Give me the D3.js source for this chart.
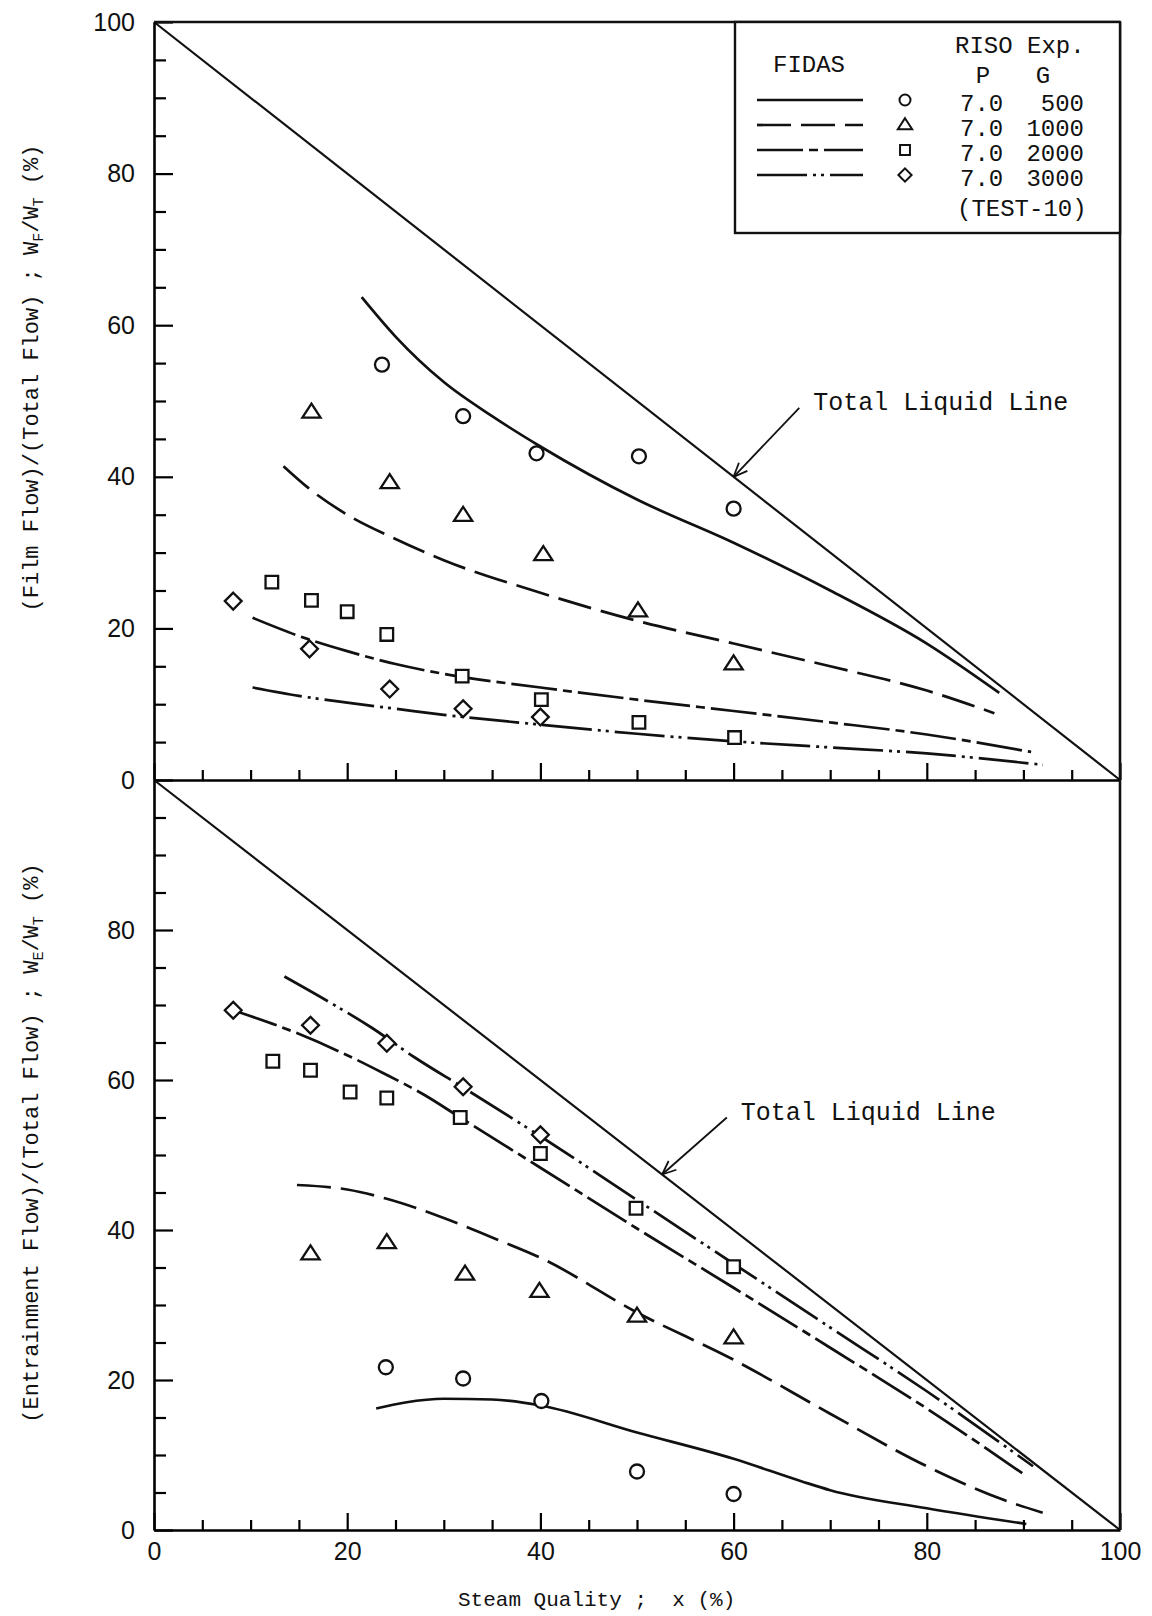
<!DOCTYPE html>
<html>
<head>
<meta charset="utf-8">
<script src="https://cdn.jsdelivr.net/npm/d3@7"></script>
<style>
body { margin: 0; background: #fff; }
text { fill: #111; }
</style>
</head>
<body>
<script>
var svgWidth = 1152, svgHeight = 1616;

// ticks and labels
var xTicks = d3.range(0, 101, 5);
var xLabels = [0, 20, 40, 60, 80, 100];
var yTicksTop = d3.range(0, 101, 5);
var yTicksBot = d3.range(0, 100, 5);
var yLabelsTop = [0, 20, 40, 60, 80, 100];
var yLabelsBot = [0, 20, 40, 60, 80];

// legend
var legendP = ['7.0', '7.0', '7.0', '7.0'];
var legendG = ['500', '1000', '2000', '3000'];
var markerTypes = ['circle', 'triangle', 'square', 'diamond'];

// total liquid line (both panels)
var totalLine = [[0, 100], [100, 0]];

// film flow, RISO experiment points [x, %]
var filmG500 = [[23.6, 54.8], [32, 48], [39.6, 43.1], [50.2, 42.7], [60, 35.8]];
var filmG1000 = [[16.3, 48.5], [24.4, 39.2], [32, 34.9], [40.3, 29.7], [50.1, 22.3], [60, 15.3]];
var filmG2000 = [[12.2, 26.1], [16.3, 23.7], [20, 22.2], [24.1, 19.2], [31.9, 13.7], [40.1, 10.6], [50.2, 7.6], [60.1, 5.6]];
var filmG3000 = [[8.2, 23.6], [16.1, 17.3], [24.4, 12], [32, 9.4], [40, 8.3]];

// film flow, FIDAS curves
var filmFidas500 = [[21.5, 63.7], [25, 58.5], [30, 52.5], [35, 48], [40, 44], [50, 37], [60, 31.3], [70, 25], [80, 18], [87.5, 11.5]];
var filmFidas1000 = [[13.4, 41.4], [16, 38.5], [20, 35], [25, 31.8], [30, 29], [40, 24.7], [50, 21], [60, 18], [70, 15], [80, 11.8], [87, 8.8]];
var filmFidas2000 = [[10.2, 21.4], [15, 19], [20, 17], [25, 15.3], [30, 14], [40, 12.2], [50, 10.6], [60, 9.1], [70, 7.6], [80, 6], [90.8, 3.7]];
var filmFidas3000 = [[10.2, 12.2], [15, 11.1], [20, 10.2], [25, 9.4], [30, 8.6], [40, 7.3], [50, 6.1], [60, 5.1], [70, 4.3], [80, 3.5], [92, 2]];

// entrainment flow, RISO experiment points
var entG500 = [[24, 21.7], [32, 20.2], [40.1, 17.2], [50, 7.8], [60, 4.8]];
var entG1000 = [[16.2, 36.8], [24.1, 38.3], [32.2, 34.1], [39.9, 31.8], [50, 28.5], [60, 25.6]];
var entG2000 = [[12.3, 62.5], [16.2, 61.3], [20.3, 58.4], [24.1, 57.6], [31.7, 55], [40, 50.2], [49.9, 42.9], [60, 35.1]];
var entG3000 = [[8.2, 69.3], [16.2, 67.3], [24.1, 64.9], [32, 59.1], [40, 52.7]];

// entrainment flow, FIDAS curves
var entFidas500 = [[23, 16.2], [26, 17], [30, 17.5], [35, 17.4], [40, 16.6], [50, 13], [60, 9.5], [67, 6.5], [70, 5.3], [80, 2.9], [90.3, 0.8]];
var entFidas1000 = [[14.8, 46], [20, 45.4], [24, 44.2], [30, 41.6], [35, 39], [40, 36.3], [50, 29], [60, 22.7], [70, 15.5], [80, 8.5], [88, 4], [92, 2.3]];
var entFidas2000 = [[8.2, 69.3], [14.7, 66.3], [20, 63.3], [23.6, 61], [28, 58], [31.7, 55], [40, 48.3], [50, 40.2], [60, 32.3], [70, 24.3], [80, 16.2], [90.3, 7.2]];
var entFidas3000 = [[13.5, 73.8], [18, 70.5], [22.5, 67], [27, 63], [32, 59], [40, 52.5], [50, 44], [60, 35.5], [70, 27], [80, 18.5], [91, 8.5]];

var dashes = ['none', '34,10', '46,6,9,6', '50,6,3,5,3,6'];
var monoFont = '"Liberation Mono", "DejaVu Sans Mono", monospace';
var numFont = '"Liberation Sans", Arial, sans-serif';

var svg = d3.select('body').append('svg')
    .attr('width', svgWidth)
    .attr('height', svgHeight);

var x = d3.scaleLinear().domain([0, 100]).range([154, 1120]);
var yTop = d3.scaleLinear().domain([0, 100]).range([780, 22]);
var yBot = d3.scaleLinear().domain([0, 100]).range([1530, 780]);

function markerPath(type, s) {
    if (type == 'circle') {
        var r = s / 2;
        return 'M' + (-r) + ',0A' + r + ',' + r + ' 0 1,0 ' + r + ',0A' + r + ',' + r + ' 0 1,0 ' + (-r) + ',0Z';
    }
    if (type == 'triangle') {
        var w = s * 1.3, h = s;
        return 'M0,' + (-h * 0.62) + 'L' + (w / 2) + ',' + (h * 0.38) + 'L' + (-w / 2) + ',' + (h * 0.38) + 'Z';
    }
    if (type == 'square') {
        var a = s * 0.9 / 2;
        return 'M' + (-a) + ',' + (-a) + 'H' + a + 'V' + a + 'H' + (-a) + 'Z';
    }
    var d = s * 1.2 / 2;
    return 'M0,' + (-d) + 'L' + d + ',0L0,' + d + 'L' + (-d) + ',0Z';
}

function panel(yScale, yTicks, yLabels, curves, points, showXLabels) {
    var g = svg.append('g');

    // total liquid line
    var line = d3.line().x(function(d) { return x(d[0]); }).y(function(d) { return yScale(d[1]); });
    g.append('path').datum(totalLine)
        .attr('d', line)
        .attr('fill', 'none').attr('stroke', '#111').attr('stroke-width', 2.2);

    // FIDAS curves
    var curve = d3.line().curve(d3.curveMonotoneX)
        .x(function(d) { return x(d[0]); }).y(function(d) { return yScale(d[1]); });
    g.selectAll('.fidas').data(curves).enter().append('path')
        .attr('d', function(d) { return curve(d); })
        .attr('fill', 'none').attr('stroke', '#111').attr('stroke-width', 2.7)
        .attr('stroke-dasharray', function(d, i) { return dashes[i]; });

    // experiment points
    points.forEach(function(pts, i) {
        g.selectAll(null).data(pts).enter().append('path')
            .attr('d', markerPath(markerTypes[i], 14))
            .attr('transform', function(d) { return 'translate(' + x(d[0]) + ',' + yScale(d[1]) + ')'; })
            .attr('fill', '#fff').attr('stroke', '#111').attr('stroke-width', 2.3);
    });

    // left axis
    var yAxis = d3.axisLeft(yScale).tickValues(yTicks).tickSizeInner(-12).tickSizeOuter(0).tickPadding(19)
        .tickFormat(function(d) { return yLabels.indexOf(d) >= 0 ? d : ''; });
    var ya = g.append('g').attr('transform', 'translate(' + x(0) + ',0)').call(yAxis);
    ya.selectAll('.tick line').attr('x2', function(d) { return d % 20 == 0 ? 19 : 12; }).attr('stroke-width', 2.2);
    ya.select('.domain').attr('stroke-width', 2.6);
    ya.selectAll('text').attr('font-family', numFont).attr('font-size', 25).attr('fill', '#111');

    // bottom axis
    var xAxis = d3.axisBottom(x).tickValues(xTicks).tickSizeInner(-10).tickSizeOuter(0).tickPadding(12)
        .tickFormat(function(d) { return showXLabels && xLabels.indexOf(d) >= 0 ? d : ''; });
    var xa = g.append('g').attr('transform', 'translate(0,' + yScale(0) + ')').call(xAxis);
    xa.selectAll('.tick line').attr('y2', function(d) { return d % 20 == 0 ? -17 : -10; }).attr('stroke-width', 2.2);
    xa.select('.domain').attr('stroke-width', 2.6);
    xa.selectAll('text').attr('font-family', numFont).attr('font-size', 25).attr('fill', '#111');

    // right frame
    g.append('line')
        .attr('x1', x(100)).attr('x2', x(100))
        .attr('y1', yScale(0)).attr('y2', yScale(100))
        .attr('stroke', '#111').attr('stroke-width', 2.6);
    return g;
}

panel(yTop, yTicksTop, yLabelsTop,
    [filmFidas500, filmFidas1000, filmFidas2000, filmFidas3000],
    [filmG500, filmG1000, filmG2000, filmG3000], false);
panel(yBot, yTicksBot, yLabelsBot,
    [entFidas500, entFidas1000, entFidas2000, entFidas3000],
    [entG500, entG1000, entG2000, entG3000], true);

// top frame of upper panel
svg.append('line')
    .attr('x1', x(0)).attr('x2', x(100))
    .attr('y1', yTop(100)).attr('y2', yTop(100))
    .attr('stroke', '#111').attr('stroke-width', 2.6);

// "Total Liquid Line" annotations
function annotate(yScale, tipX, tailX, tailY) {
    var tx = x(tipX), ty = yScale(100 - tipX);
    var sx = x(tailX), sy = yScale(tailY);
    svg.append('line').attr('x1', sx).attr('y1', sy).attr('x2', tx).attr('y2', ty)
        .attr('stroke', '#111').attr('stroke-width', 1.8);
    var ang = Math.atan2(sy - ty, sx - tx);
    [-0.4, 0.4].forEach(function(a) {
        svg.append('line').attr('x1', tx).attr('y1', ty)
            .attr('x2', tx + 15 * Math.cos(ang + a)).attr('y2', ty + 15 * Math.sin(ang + a))
            .attr('stroke', '#111').attr('stroke-width', 1.8);
    });
    svg.append('text').attr('x', sx + 14).attr('y', sy + 2)
        .attr('font-family', monoFont).attr('font-size', 25)
        .text('Total Liquid Line');
}
annotate(yTop, 60, 66.8, 49.1);
annotate(yBot, 52.6, 59.3, 55);

// legend box
var lg = svg.append('g');
lg.append('rect').attr('x', 735).attr('y', yTop(100)).attr('width', x(100) - 735).attr('height', 211)
    .attr('fill', '#fff').attr('stroke', '#111').attr('stroke-width', 2.4);
lg.append('text').attr('x', 773).attr('y', 72).attr('font-family', monoFont).attr('font-size', 24).text('FIDAS');
lg.append('text').attr('x', 955).attr('y', 53).attr('font-family', monoFont).attr('font-size', 24).text('RISO Exp.');
lg.append('text').attr('x', 983).attr('y', 83).attr('text-anchor', 'middle').attr('font-family', monoFont).attr('font-size', 24).text('P');
lg.append('text').attr('x', 1043).attr('y', 83).attr('text-anchor', 'middle').attr('font-family', monoFont).attr('font-size', 24).text('G');
legendG.forEach(function(gv, i) {
    var yy = 100 + i * 25;
    lg.append('line').attr('x1', 757).attr('x2', 863).attr('y1', yy).attr('y2', yy)
        .attr('stroke', '#111').attr('stroke-width', 2.7).attr('stroke-dasharray', dashes[i]);
    lg.append('path').attr('d', markerPath(markerTypes[i], 11))
        .attr('transform', 'translate(905,' + yy + ')')
        .attr('fill', '#fff').attr('stroke', '#111').attr('stroke-width', 2);
    lg.append('text').attr('x', 960).attr('y', yy + 11).attr('font-family', monoFont).attr('font-size', 24).text(legendP[i]);
    lg.append('text').attr('x', 1084).attr('y', yy + 11).attr('text-anchor', 'end')
        .attr('font-family', monoFont).attr('font-size', 24).text(gv);
});
lg.append('text').attr('x', 957).attr('y', 216).attr('font-family', monoFont).attr('font-size', 24).text('(TEST-10)');

// axis titles
function yTitle(cy, main, sub1, sub2) {
    var t = svg.append('text')
        .attr('transform', 'translate(38,' + cy + ') rotate(-90)')
        .attr('text-anchor', 'middle')
        .attr('font-family', monoFont).attr('font-size', 22);
    t.append('tspan').text(main + ' ; W');
    t.append('tspan').attr('font-size', 15).attr('dy', 5).text(sub1);
    t.append('tspan').attr('dy', -5).text('/W');
    t.append('tspan').attr('font-size', 15).attr('dy', 5).text(sub2);
    t.append('tspan').attr('dy', -5).text(' (%)');
}
yTitle(378, '(Film Flow)/(Total Flow)', 'F', 'T');
yTitle(1143, '(Entrainment Flow)/(Total Flow)', 'E', 'T');

svg.append('text')
    .attr('x', 458).attr('y', 1606)
    .attr('font-family', monoFont).attr('font-size', 21)
    .style('white-space', 'pre')
    .text('Steam Quality ;  x (%)');
</script>
</body>
</html>
